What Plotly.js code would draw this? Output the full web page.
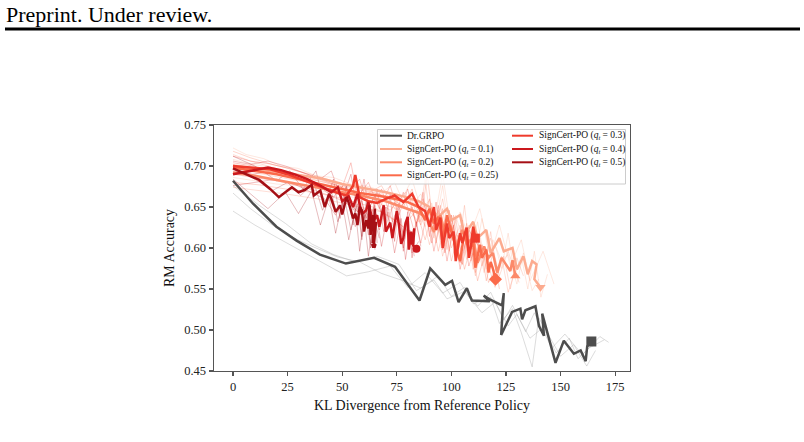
<!DOCTYPE html>
<html>
<head>
<meta charset="utf-8">
<script src="https://cdn.plot.ly/plotly-3.0.1.min.js"></script>
<style>
  html, body { margin: 0; padding: 0; background: #fff; }
  #chart { width: 804px; height: 442px; }
</style>
</head>
<body>
<div id="chart"></div>
<script>
// ---- Mean curves: RM accuracy vs. KL divergence from the reference policy ----
const grpoKL  = [0, 9.2, 19.9, 29.1, 39.8, 51.7, 64.6, 74.2, 85.4, 90.3, 97.2, 100.3, 103.3, 107.1, 108.4, 109.4, 117.6, 114.8, 117.1, 123.2, 124.0, 122.8, 127.8, 131.6, 132.4, 133.9, 138.5, 140.1, 142.4, 141.6, 147.7, 151.5, 156.1, 159.2, 161.5, 162.2, 164.1];
const grpoAcc = [0.682, 0.654, 0.626, 0.609, 0.592, 0.581, 0.588, 0.577, 0.536, 0.575, 0.555, 0.560, 0.534, 0.551, 0.542, 0.536, 0.535, 0.542, 0.538, 0.530, 0.545, 0.494, 0.522, 0.526, 0.513, 0.524, 0.529, 0.505, 0.493, 0.520, 0.460, 0.487, 0.471, 0.475, 0.462, 0.480, 0.486];

const q10KL  = [0, 10, 20, 30, 40, 50, 60, 70, 78, 85, 90, 94, 98, 100, 104, 106, 110, 112, 116, 118, 122, 124, 128, 130, 133, 135, 137, 139, 138, 140.8];
const q10Acc = [0.700, 0.697, 0.693, 0.689, 0.685, 0.678, 0.673, 0.668, 0.663, 0.657, 0.650, 0.638, 0.648, 0.634, 0.640, 0.616, 0.632, 0.612, 0.622, 0.594, 0.612, 0.596, 0.600, 0.574, 0.590, 0.568, 0.584, 0.580, 0.562, 0.552];

const q20KL  = [0, 10, 20, 30, 40, 50, 60, 70, 78, 85, 89, 92, 95, 97, 100, 102, 105, 107, 110, 112, 115, 117, 119, 121, 123, 125, 127, 128, 129.3];
const q20Acc = [0.692, 0.688, 0.683, 0.678, 0.673, 0.668, 0.663, 0.657, 0.650, 0.643, 0.636, 0.620, 0.640, 0.618, 0.625, 0.600, 0.622, 0.606, 0.612, 0.582, 0.602, 0.588, 0.594, 0.570, 0.588, 0.580, 0.572, 0.585, 0.566];

const q25KL  = [0, 10, 20, 30, 40, 50, 58, 66, 74, 80, 85, 88, 90, 92, 94, 96, 98, 100, 102, 104, 106, 108, 110, 111, 113, 114, 116, 117, 118, 119, 120.2];
const q25Acc = [0.698, 0.694, 0.690, 0.684, 0.678, 0.672, 0.667, 0.664, 0.660, 0.656, 0.650, 0.634, 0.648, 0.630, 0.638, 0.608, 0.640, 0.620, 0.603, 0.584, 0.620, 0.596, 0.607, 0.576, 0.604, 0.588, 0.598, 0.570, 0.583, 0.575, 0.562];

const q30KL  = [0, 8, 17, 25, 33, 40, 47, 52, 55, 56, 58, 62, 66, 70, 74, 78, 82, 85, 88, 90, 92, 93, 95, 96, 98, 99, 101, 102, 104, 105, 107, 108, 109, 110, 111];
const q30Acc = [0.700, 0.698, 0.696, 0.690, 0.682, 0.675, 0.668, 0.664, 0.676, 0.689, 0.662, 0.657, 0.655, 0.660, 0.664, 0.656, 0.666, 0.650, 0.645, 0.626, 0.650, 0.622, 0.637, 0.600, 0.630, 0.612, 0.620, 0.584, 0.618, 0.606, 0.625, 0.588, 0.603, 0.626, 0.612];

const q40KL  = [0, 8, 16, 22, 28, 34, 40, 45, 48, 50, 53, 55, 57, 59, 61, 62, 64, 66, 67, 69, 70, 72, 73, 75, 76, 77, 78, 79, 80, 80.5, 81.5, 82, 83, 82.5, 84];
const q40Acc = [0.690, 0.694, 0.698, 0.695, 0.690, 0.684, 0.676, 0.668, 0.674, 0.657, 0.663, 0.650, 0.666, 0.641, 0.646, 0.656, 0.632, 0.640, 0.626, 0.652, 0.620, 0.631, 0.612, 0.645, 0.628, 0.605, 0.612, 0.630, 0.638, 0.598, 0.620, 0.604, 0.624, 0.603, 0.599];

const q50KL  = [0, 6, 12, 17, 21, 25, 27, 30, 33, 36, 37, 40, 42, 44, 45, 47, 49, 50, 52, 53, 55, 56, 57, 58, 59, 60, 61, 62, 62.5, 63, 64, 64.5, 65, 64, 65.5, 64.5];
const q50Acc = [0.697, 0.690, 0.683, 0.672, 0.662, 0.670, 0.674, 0.668, 0.671, 0.677, 0.664, 0.670, 0.650, 0.666, 0.660, 0.644, 0.652, 0.641, 0.662, 0.655, 0.636, 0.642, 0.628, 0.650, 0.646, 0.620, 0.634, 0.624, 0.652, 0.616, 0.640, 0.626, 0.648, 0.606, 0.632, 0.603];

// ---- Individual runs (drawn faintly behind the means) ----
const grpoRun1KL  = [0, 8, 18, 28, 38, 48, 58, 68, 78, 86, 94, 100, 106, 112, 118, 124, 128, 134, 138, 146, 152, 160, 168, 172];
const grpoRun1Acc = [0.667, 0.648, 0.628, 0.612, 0.600, 0.589, 0.583, 0.569, 0.560, 0.551, 0.566, 0.541, 0.552, 0.529, 0.546, 0.512, 0.530, 0.498, 0.521, 0.478, 0.495, 0.470, 0.492, 0.485];
const grpoRun2KL  = [0, 10, 22, 34, 44, 52, 62, 72, 80, 88, 96, 104, 110, 118, 122, 128, 132, 137, 140, 146, 150, 156, 162, 166];
const grpoRun2Acc = [0.645, 0.628, 0.610, 0.592, 0.577, 0.566, 0.571, 0.578, 0.552, 0.570, 0.545, 0.558, 0.532, 0.540, 0.508, 0.526, 0.497, 0.455, 0.515, 0.486, 0.468, 0.482, 0.456, 0.475];
const grpoRun3KL  = [0, 12, 24, 36, 46, 56, 66, 76, 84, 92, 98, 106, 114, 120, 126, 130, 136, 142, 148, 154, 158, 163, 170];
const grpoRun3Acc = [0.676, 0.652, 0.630, 0.605, 0.592, 0.583, 0.590, 0.580, 0.548, 0.561, 0.538, 0.547, 0.521, 0.534, 0.505, 0.519, 0.490, 0.503, 0.472, 0.490, 0.465, 0.478, 0.488];

const q10Run1KL  = [0, 6, 14, 22, 30, 38, 46, 54, 62, 70, 76, 82, 86, 90, 93, 96, 99, 102, 105, 108, 111, 114, 117, 120, 123, 126, 129, 132, 135, 138, 141, 144];
const q10Run1Acc = [0.722, 0.714, 0.709, 0.700, 0.697, 0.688, 0.686, 0.678, 0.675, 0.668, 0.652, 0.684, 0.648, 0.658, 0.630, 0.676, 0.620, 0.640, 0.612, 0.628, 0.590, 0.636, 0.596, 0.604, 0.575, 0.618, 0.566, 0.590, 0.550, 0.596, 0.540, 0.568];
const q10Run2KL  = [0, 10, 20, 30, 40, 50, 60, 68, 75, 82, 88, 91, 95, 98, 102, 105, 109, 112, 116, 119, 123, 126, 130, 133, 137, 140];
const q10Run2Acc = [0.686, 0.682, 0.678, 0.676, 0.670, 0.664, 0.660, 0.654, 0.648, 0.660, 0.626, 0.655, 0.610, 0.648, 0.606, 0.624, 0.590, 0.632, 0.574, 0.610, 0.584, 0.592, 0.556, 0.594, 0.548, 0.562];
const q10Run3KL  = [0, 9, 18, 28, 38, 48, 58, 66, 74, 80, 86, 92, 96, 100, 104, 108, 113, 118, 122, 127, 132, 136, 142, 147];
const q10Run3Acc = [0.708, 0.702, 0.698, 0.690, 0.683, 0.676, 0.668, 0.662, 0.680, 0.644, 0.666, 0.630, 0.690, 0.620, 0.644, 0.612, 0.648, 0.590, 0.628, 0.578, 0.610, 0.560, 0.596, 0.556];

const q20Run1KL  = [0, 8, 16, 26, 36, 46, 56, 66, 74, 80, 85, 88, 91, 94, 97, 100, 103, 106, 109, 112, 115, 118, 121, 124, 127, 130, 133];
const q20Run1Acc = [0.714, 0.706, 0.700, 0.692, 0.686, 0.678, 0.672, 0.666, 0.658, 0.648, 0.632, 0.684, 0.620, 0.646, 0.602, 0.640, 0.592, 0.652, 0.584, 0.612, 0.570, 0.620, 0.566, 0.590, 0.550, 0.588, 0.566];
const q20Run2KL  = [0, 12, 24, 36, 48, 58, 68, 76, 82, 86, 90, 93, 96, 99, 102, 105, 108, 111, 114, 117, 120, 123, 126, 129];
const q20Run2Acc = [0.674, 0.670, 0.666, 0.661, 0.656, 0.650, 0.644, 0.630, 0.616, 0.648, 0.604, 0.638, 0.590, 0.622, 0.598, 0.580, 0.612, 0.566, 0.604, 0.578, 0.552, 0.590, 0.546, 0.570];
const q20Run3KL  = [0, 10, 22, 34, 44, 54, 64, 72, 79, 84, 88, 92, 96, 100, 104, 107, 110, 114, 118, 122, 126, 131];
const q20Run3Acc = [0.698, 0.692, 0.686, 0.680, 0.674, 0.668, 0.660, 0.646, 0.668, 0.630, 0.654, 0.612, 0.660, 0.600, 0.628, 0.586, 0.630, 0.578, 0.612, 0.566, 0.596, 0.558];

const q25Run1KL  = [0, 8, 18, 28, 38, 48, 56, 64, 72, 78, 82, 86, 89, 92, 95, 98, 101, 104, 107, 110, 113, 116, 119, 122];
const q25Run1Acc = [0.718, 0.710, 0.702, 0.695, 0.688, 0.680, 0.674, 0.668, 0.662, 0.650, 0.672, 0.632, 0.690, 0.618, 0.652, 0.598, 0.640, 0.586, 0.630, 0.574, 0.612, 0.560, 0.594, 0.550];
const q25Run2KL  = [0, 12, 24, 36, 46, 56, 64, 72, 78, 84, 88, 91, 94, 97, 100, 103, 106, 109, 112, 115, 118];
const q25Run2Acc = [0.680, 0.677, 0.672, 0.668, 0.663, 0.656, 0.650, 0.638, 0.626, 0.646, 0.610, 0.640, 0.596, 0.630, 0.584, 0.616, 0.574, 0.602, 0.560, 0.590, 0.570];
const q25Run3KL  = [0, 10, 20, 32, 42, 52, 60, 68, 75, 81, 86, 90, 93, 96, 99, 102, 105, 108, 111, 114, 117, 121];
const q25Run3Acc = [0.702, 0.698, 0.694, 0.686, 0.680, 0.672, 0.664, 0.676, 0.644, 0.664, 0.628, 0.660, 0.606, 0.648, 0.596, 0.636, 0.580, 0.622, 0.570, 0.604, 0.558, 0.578];

const q30Run1KL  = [0, 8, 16, 26, 34, 42, 50, 54, 57, 62, 67, 72, 76, 80, 84, 87, 90, 93, 96, 99, 102, 105, 108, 112];
const q30Run1Acc = [0.712, 0.706, 0.703, 0.697, 0.690, 0.682, 0.674, 0.704, 0.662, 0.680, 0.648, 0.676, 0.640, 0.672, 0.626, 0.668, 0.614, 0.656, 0.598, 0.646, 0.590, 0.634, 0.578, 0.612];
const q30Run2KL  = [0, 10, 20, 30, 40, 48, 55, 60, 65, 70, 74, 78, 82, 86, 89, 92, 95, 98, 101, 104, 107, 110];
const q30Run2Acc = [0.690, 0.686, 0.682, 0.676, 0.668, 0.660, 0.650, 0.636, 0.664, 0.628, 0.656, 0.616, 0.650, 0.606, 0.646, 0.596, 0.636, 0.584, 0.628, 0.574, 0.614, 0.598];
const q30Run3KL  = [0, 9, 18, 27, 36, 44, 51, 58, 63, 68, 73, 78, 83, 87, 91, 94, 97, 100, 104, 108, 113];
const q30Run3Acc = [0.704, 0.700, 0.692, 0.686, 0.680, 0.672, 0.662, 0.684, 0.640, 0.672, 0.632, 0.668, 0.620, 0.660, 0.606, 0.652, 0.594, 0.640, 0.582, 0.622, 0.600];

const q40Run1KL  = [0, 8, 16, 24, 32, 40, 45, 50, 54, 57, 60, 63, 66, 69, 72, 74, 76, 78, 80, 82, 84, 86];
const q40Run1Acc = [0.706, 0.702, 0.706, 0.700, 0.692, 0.684, 0.694, 0.658, 0.690, 0.644, 0.684, 0.632, 0.672, 0.620, 0.666, 0.608, 0.654, 0.596, 0.644, 0.588, 0.632, 0.602];
const q40Run2KL  = [0, 10, 20, 28, 36, 42, 47, 52, 56, 59, 62, 65, 68, 71, 74, 77, 79, 81, 83];
const q40Run2Acc = [0.676, 0.680, 0.684, 0.678, 0.668, 0.660, 0.640, 0.666, 0.626, 0.658, 0.616, 0.652, 0.602, 0.644, 0.594, 0.636, 0.586, 0.622, 0.590];
const q40Run3KL  = [0, 9, 18, 26, 34, 41, 46, 51, 55, 58, 61, 64, 67, 70, 73, 75, 78, 80, 82, 85];
const q40Run3Acc = [0.694, 0.690, 0.694, 0.688, 0.680, 0.672, 0.662, 0.678, 0.646, 0.668, 0.636, 0.660, 0.622, 0.650, 0.612, 0.642, 0.600, 0.630, 0.594, 0.608];

const q50Run1KL  = [0, 10, 20, 26, 32, 38, 42, 46, 49, 52, 55, 57, 59, 61, 63, 65, 66];
const q50Run1Acc = [0.712, 0.700, 0.682, 0.694, 0.672, 0.694, 0.650, 0.684, 0.636, 0.676, 0.628, 0.668, 0.614, 0.656, 0.604, 0.644, 0.606];
const q50Run2KL  = [0, 8, 16, 24, 30, 36, 40, 44, 47, 50, 53, 56, 58, 60, 62, 64, 65];
const q50Run2Acc = [0.684, 0.666, 0.648, 0.668, 0.642, 0.670, 0.628, 0.662, 0.618, 0.656, 0.610, 0.648, 0.596, 0.640, 0.590, 0.628, 0.598];
const q50Run3KL  = [0, 9, 18, 25, 31, 37, 41, 45, 48, 51, 54, 57, 59, 61, 63, 65, 67];
const q50Run3Acc = [0.698, 0.686, 0.670, 0.680, 0.664, 0.680, 0.646, 0.670, 0.632, 0.662, 0.622, 0.654, 0.610, 0.646, 0.600, 0.632, 0.612];

const xTicks = [0, 25, 50, 75, 100, 125, 150, 175];
const yTicks = [0.45, 0.50, 0.55, 0.60, 0.65, 0.70, 0.75];

// ---- Series definitions ----
const series = [
  { name: 'Dr.GRPO', kl: grpoKL, acc: grpoAcc, color: '#4d4d4d', marker: 'square', msize: 10,
    runs: [[grpoRun1KL, grpoRun1Acc], [grpoRun2KL, grpoRun2Acc], [grpoRun3KL, grpoRun3Acc]] },
  { name: 'SignCert-PO (<i>q</i><sub><i>t</i></sub> = 0.1)', kl: q10KL, acc: q10Acc, color: '#fcab8f', marker: 'triangle-down', msize: 9,
    runs: [[q10Run1KL, q10Run1Acc], [q10Run2KL, q10Run2Acc], [q10Run3KL, q10Run3Acc]] },
  { name: 'SignCert-PO (<i>q</i><sub><i>t</i></sub> = 0.2)', kl: q20KL, acc: q20Acc, color: '#fc8a6a', marker: 'triangle-up', msize: 9,
    runs: [[q20Run1KL, q20Run1Acc], [q20Run2KL, q20Run2Acc], [q20Run3KL, q20Run3Acc]] },
  { name: 'SignCert-PO (<i>q</i><sub><i>t</i></sub> = 0.25)', kl: q25KL, acc: q25Acc, color: '#fb6a4a', marker: 'diamond', msize: 10,
    runs: [[q25Run1KL, q25Run1Acc], [q25Run2KL, q25Run2Acc], [q25Run3KL, q25Run3Acc]] },
  { name: 'SignCert-PO (<i>q</i><sub><i>t</i></sub> = 0.3)', kl: q30KL, acc: q30Acc, color: '#ef3b2c', marker: 'square', msize: 9,
    runs: [[q30Run1KL, q30Run1Acc], [q30Run2KL, q30Run2Acc], [q30Run3KL, q30Run3Acc]] },
  { name: 'SignCert-PO (<i>q</i><sub><i>t</i></sub> = 0.4)', kl: q40KL, acc: q40Acc, color: '#cb181d', marker: 'circle', msize: 8,
    runs: [[q40Run1KL, q40Run1Acc], [q40Run2KL, q40Run2Acc], [q40Run3KL, q40Run3Acc]] },
  { name: 'SignCert-PO (<i>q</i><sub><i>t</i></sub> = 0.5)', kl: q50KL, acc: q50Acc, color: '#a50f15', marker: 'pentagon', msize: 6,
    runs: [[q50Run1KL, q50Run1Acc], [q50Run2KL, q50Run2Acc], [q50Run3KL, q50Run3Acc]] }
];

const FONT = "'Liberation Serif', 'DejaVu Serif', serif";
const W = 804, H = 442;
const M = { l: 214, r: 174, t: 125, b: 71 };
// page pixel -> paper fraction helpers for header and legend placement
const px = x => (x - M.l) / (W - M.l - M.r);
const py = y => (H - M.b - y) / (H - M.t - M.b);

const traces = [];
// faint individual runs
series.forEach(s => {
  const isBase = s.name === 'Dr.GRPO';
  s.runs.forEach(r => {
    traces.push({
      x: r[0], y: r[1], type: 'scatter', mode: 'lines',
      line: { color: isBase ? '#9a9a9a' : s.color, width: 1 },
      opacity: isBase ? 0.35 : 0.28,
      hoverinfo: 'skip', showlegend: false
    });
  });
});
// mean curves with a marker at the final checkpoint
series.forEach(s => {
  traces.push({
    x: s.kl, y: s.acc, type: 'scatter', mode: 'lines',
    line: { color: s.color, width: 2.5 }, name: s.name, showlegend: false
  });
  traces.push({
    x: [s.kl[s.kl.length - 1]], y: [s.acc[s.acc.length - 1]], type: 'scatter', mode: 'markers',
    marker: { color: s.color, size: s.msize, symbol: s.marker, line: { width: 0 } },
    hoverinfo: 'skip', showlegend: false
  });
});

// legend drawn as shapes + annotations (two columns, compact rows)
const legendCols = [
  { lineX0: 380, lineX1: 402, textX: 405, items: [0, 1, 2, 3] },
  { lineX0: 512, lineX1: 533, textX: 537, items: [4, 5, 6] }
];
const rowY = [135.7, 149, 162.3, 175.3];

const shapes = [
  // header rule
  { type: 'line', xref: 'paper', yref: 'paper', x0: px(5), x1: px(800), y0: py(29), y1: py(29),
    line: { color: '#000', width: 3 } },
  // legend frame
  { type: 'rect', xref: 'paper', yref: 'paper', x0: px(377.5), x1: px(625.5), y0: py(129.5), y1: py(184),
    line: { color: '#cccccc', width: 1 }, fillcolor: 'rgba(255,255,255,0.8)', layer: 'above' }
];
const annotations = [
  { text: 'Preprint. Under review.', xref: 'paper', yref: 'paper', x: px(4), y: py(15),
    xanchor: 'left', yanchor: 'middle', showarrow: false, font: { family: FONT, size: 22, color: '#000' } }
];
legendCols.forEach(col => {
  col.items.forEach((idx, row) => {
    const s = series[idx];
    shapes.push({ type: 'line', xref: 'paper', yref: 'paper', x0: px(col.lineX0), x1: px(col.lineX1),
      y0: py(rowY[row]), y1: py(rowY[row]), line: { color: s.color, width: 2 }, layer: 'above' });
    annotations.push({ text: s.name, xref: 'paper', yref: 'paper', x: px(col.textX), y: py(rowY[row]),
      xanchor: 'left', yanchor: 'middle', showarrow: false,
      font: { family: FONT, size: 9.5, color: '#111' } });
  });
});

const axisCommon = {
  showgrid: false, zeroline: false, showline: true, mirror: true,
  linecolor: '#555', linewidth: 1.4,
  ticks: 'outside', ticklen: 4, tickwidth: 1.2, tickcolor: '#555',
  tickfont: { family: FONT, size: 12.5, color: '#222' }
};

const layout = {
  width: W, height: H,
  margin: M,
  paper_bgcolor: '#fff', plot_bgcolor: '#fff',
  showlegend: false,
  font: { family: FONT },
  xaxis: Object.assign({}, axisCommon, {
    range: [-8.7, 181.8], tickvals: xTicks, ticktext: xTicks.map(String),
    title: { text: 'KL Divergence from Reference Policy', standoff: 6,
             font: { family: FONT, size: 14, color: '#111' } }
  }),
  yaxis: Object.assign({}, axisCommon, {
    range: [0.45, 0.75], tickvals: yTicks, ticktext: yTicks.map(v => v.toFixed(2)),
    title: { text: 'RM Accuracy', standoff: 6,
             font: { family: FONT, size: 14, color: '#111' } }
  }),
  shapes: shapes,
  annotations: annotations
};

Plotly.newPlot('chart', traces, layout, { staticPlot: true, displayModeBar: false });
</script>
</body>
</html>
